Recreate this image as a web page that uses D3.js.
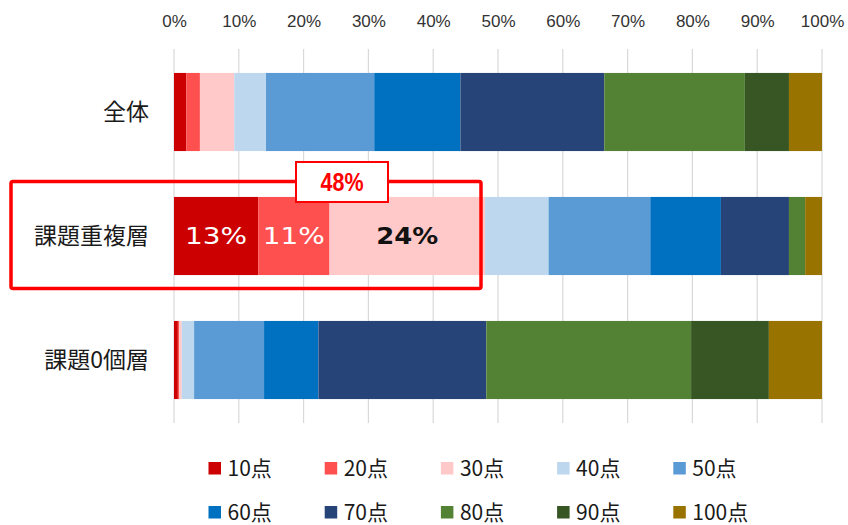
<!DOCTYPE html>
<html>
<head>
<meta charset="utf-8">
<script src="https://cdn.jsdelivr.net/npm/d3@7"></script>
<style>
  html, body { margin: 0; padding: 0; background: #fff; }
  svg { display: block; }
</style>
</head>
<body>
<svg id="chart" width="848" height="525"></svg>
<script>
// Score bands (legend order) and their colours
const bands = ["10点", "20点", "30点", "40点", "50点", "60点", "70点", "80点", "90点", "100点"];
const colors = ["#CC0000", "#FF5050", "#FFC9C9", "#BDD7EE", "#5B9BD5", "#0070C0", "#264478", "#548235", "#375623", "#997300"];

// Respondent groups
const groups = ["全体", "課題重複層", "課題0個層"];

// Share (%) of each group in each score band
const allValues     = [1.9, 2.1, 5.3, 4.9, 16.7, 13.3, 22.2, 21.7, 6.8, 5.1];
const overlapValues = [13, 11, 24, 9.8, 15.7, 10.9, 10.5, 2.5, 0.0, 2.6];
const zeroValues    = [0.6, 0.2, 0.4, 1.9, 10.8, 8.4, 25.9, 31.6, 12.0, 8.2];

// Tick labels for the percentage axis
const tickValues = [0, 10, 20, 30, 40, 50, 60, 70, 80, 90, 100];

// Labelled segments of the overlap group and the sum shown in the callout
const overlapLabels = ["13%", "11%", "24%"];
const calloutLabel = "48%";

const seriesByGroup = {
  "全体": allValues,
  "課題重複層": overlapValues,
  "課題0個層": zeroValues
};

const rows = groups.map(g => {
  const r = { group: g };
  bands.forEach((b, i) => r[b] = seriesByGroup[g][i]);
  return r;
});

const svg = d3.select("#chart");

const x = d3.scaleLinear().domain([0, 100]).range([174, 822]);
const y = d3.scaleBand().domain(groups).range([50, 422]).paddingInner(0.37).paddingOuter(0.185);
const color = d3.scaleOrdinal().domain(bands).range(colors);

// Vertical gridlines
svg.append("g")
  .selectAll("line")
  .data(tickValues)
  .join("line")
  .attr("x1", d => x(d)).attr("x2", d => x(d))
  .attr("y1", 49).attr("y2", 423)
  .attr("stroke", "#d9d9d9")
  .attr("stroke-width", 1.2);

// Top axis labels
const axis = d3.axisTop(x).tickValues(tickValues).tickFormat(d => d + "%").tickSize(0);
const axisG = svg.append("g").attr("transform", "translate(0,15)").call(axis);
axisG.select(".domain").remove();
axisG.selectAll("text")
  .attr("font-family", "'Liberation Sans', Arial, sans-serif")
  .attr("font-size", 17)
  .attr("fill", "#333333")
  .attr("dy", "0.9em");

// Stacked bars
const stacked = d3.stack().keys(bands)(rows);
svg.append("g")
  .selectAll("g")
  .data(stacked)
  .join("g")
  .attr("fill", d => color(d.key))
  .selectAll("rect")
  .data(d => d)
  .join("rect")
  .attr("x", d => x(d[0]))
  .attr("width", d => Math.max(0, x(d[1]) - x(d[0])))
  .attr("y", d => y(d.data.group))
  .attr("height", y.bandwidth());

// Group labels
svg.append("g")
  .selectAll("text")
  .data(groups)
  .join("text")
  .attr("x", 149)
  .attr("y", d => y(d) + y.bandwidth() / 2)
  .attr("dy", "0.36em")
  .attr("text-anchor", "end")
  .attr("font-family", "'Noto Sans CJK JP', sans-serif")
  .attr("font-size", 23)
  .attr("fill", "#1a1a1a")
  .text(d => d);

// Segment labels on the overlap group
const overlapRow = stacked.map(s => s[1]);
const labelStyles = [
  { fill: "#ffffff", weight: 400 },
  { fill: "#ffffff", weight: 400 },
  { fill: "#111111", weight: 700 }
];
svg.append("g")
  .selectAll("text")
  .data(overlapLabels)
  .join("text")
  .attr("x", (d, i) => (x(overlapRow[i][0]) + x(overlapRow[i][1])) / 2)
  .attr("y", y("課題重複層") + y.bandwidth() / 2)
  .attr("dy", "0.36em")
  .attr("text-anchor", "middle")
  .attr("font-family", "'DejaVu Sans', sans-serif")
  .attr("font-size", 23)
  .attr("font-weight", (d, i) => labelStyles[i].weight)
  .attr("fill", (d, i) => labelStyles[i].fill)
  .attr("textLength", 62)
  .attr("lengthAdjust", "spacingAndGlyphs")
  .text(d => d);

// Red frame around the overlap group
svg.append("rect")
  .attr("x", 11).attr("y", 181.5)
  .attr("width", 470).attr("height", 107)
  .attr("rx", 2)
  .attr("fill", "none")
  .attr("stroke", "#FF0000")
  .attr("stroke-width", 3.5);

// Callout box with the combined share
svg.append("rect")
  .attr("x", 296).attr("y", 162)
  .attr("width", 92).attr("height", 40)
  .attr("fill", "#ffffff")
  .attr("stroke", "#FF0000")
  .attr("stroke-width", 2);
svg.append("text")
  .attr("x", 342).attr("y", 182)
  .attr("dy", "0.36em")
  .attr("text-anchor", "middle")
  .attr("font-family", "'Liberation Sans', Arial, sans-serif")
  .attr("font-weight", 700)
  .attr("font-size", 26)
  .attr("fill", "#FF0000")
  .attr("textLength", 43)
  .attr("lengthAdjust", "spacingAndGlyphs")
  .text(calloutLabel);

// Legend: two rows of five
const legend = svg.append("g")
  .selectAll("g")
  .data(bands)
  .join("g")
  .attr("transform", (d, i) => `translate(${208.5 + (i % 5) * 116.2},${468.5 + Math.floor(i / 5) * 44})`);
legend.append("rect")
  .attr("x", 0).attr("y", -6.5)
  .attr("width", 12.5).attr("height", 12.5)
  .attr("fill", d => color(d));
legend.append("text")
  .attr("x", 19)
  .attr("y", 0)
  .attr("dy", "0.36em")
  .attr("font-family", "'Noto Sans CJK JP', sans-serif")
  .attr("font-size", 21)
  .attr("fill", "#1a1a1a")
  .text(d => d);
</script>
</body>
</html>
